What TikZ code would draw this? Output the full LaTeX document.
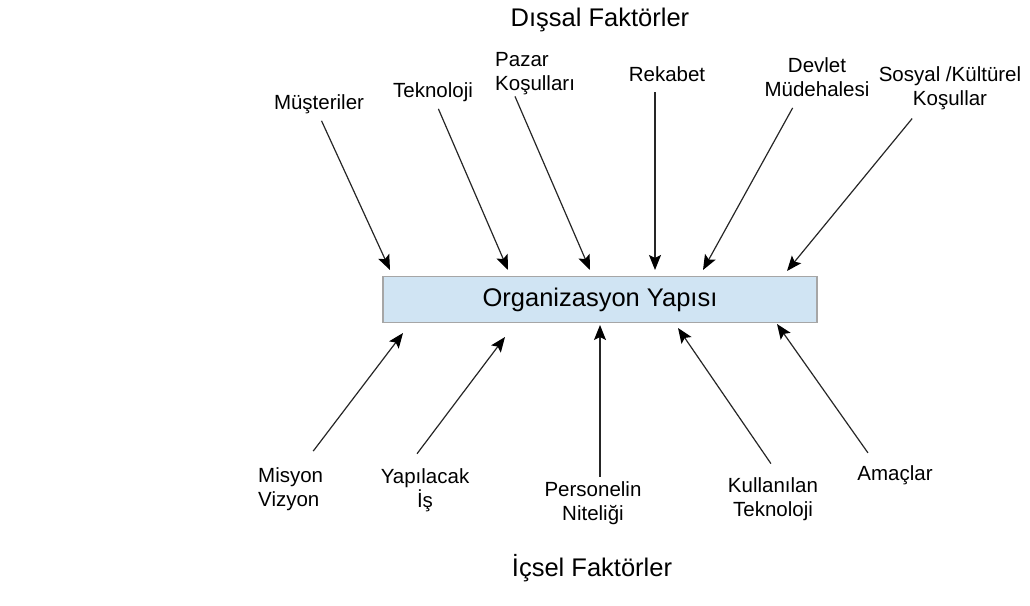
\documentclass[tikz,border=0pt]{standalone}
\usepackage{fontspec}
\setmainfont{Liberation Sans}
\usetikzlibrary{arrows.meta,positioning}
\definecolor{kutumavi}{HTML}{D0E4F3}
\tikzset{
  >={Stealth[length=15pt,width=12pt,inset=3pt,color=black]},
  etken/.style ={font=\fontsize{20.5}{24}\selectfont, inner sep=1pt, align=center},
  baslik/.style={font=\fontsize{25.5}{30}\selectfont, inner sep=1pt},
  yapi/.style  ={draw=black!35, line width=1.5pt, fill=kutumavi, inner sep=0pt,
                 minimum width=434pt, minimum height=46pt, font=\fontsize{25.5}{30}\selectfont},
  ok/.style    ={->, draw=black!85, line width=1.2pt}
}

\begin{document}
\begin{tikzpicture}[x=1pt,y=-1pt]
\useasboundingbox (0,0) rectangle (1030,605);

\node[baslik] (dissal) at (600,20) {Dışsal Faktörler};
\node[baslik] (icsel)  at (592,568) {İçsel Faktörler};
\node[yapi]   (org)    at (600,299.5) {Organizasyon Yapısı};

% dis etkenler
\node[etken] (mus) at (319,104.5) {Müşteriler};
\node[etken] (tek) at (433,92.6) {Teknoloji};
\node[etken, align=left, anchor=west] (paz) at (494,74) {Pazar\\Koşulları};
\node[etken] (rek) at (667,74.5) {Rekabet};
\node[etken] (dev) at (817,77.5) {Devlet\\Müdehalesi};
\node[etken] (sos) at (950,88) {Sosyal /Kültürel\\Koşullar};

% ic etkenler
\node[etken, align=left, anchor=west] (mis) at (257,489) {Misyon\\Vizyon};
\node[etken] (yap) at (425,490.5) {Yapılacak\\İş};
\node[etken] (per) at (593,503.6) {Personelin\\Niteliği};
\node[etken] (kul) at (773,499.6) {Kullanılan\\Teknoloji};
\node[etken] (ama) at (895,475.5) {Amaçlar};

\coordinate (t1) at (390,270);
\coordinate (t2) at (508,270);
\coordinate (t3) at (590,270);
\coordinate (t4) at (655,270);
\coordinate (t5) at (703,270);
\coordinate (t6) at (787,271);
\coordinate (b1) at (403,333);
\coordinate (b2) at (505,337);
\coordinate (b3) at (600,325);
\coordinate (b4) at (678,328);
\coordinate (b5) at (777,324);

\draw[ok, shorten <=6pt] (mus.south) -- (t1);
\draw[ok, shorten <=6pt] ([xshift=3pt]tek.south) -- (t2);
\draw[ok] ([xshift=21pt]paz.south west) -- (t3);
\draw[ok, shorten <=9pt] ([xshift=-12pt]rek.south) -- (t4);
\draw[ok, shorten <=11pt] ([xshift=-19pt]dev.south) -- (t5);
\draw[ok, shorten <=10pt] ([xshift=-31.5pt]sos.south) -- (t6);

\draw[ok, shorten <=19pt] ([xshift=44.7pt]mis.north west) -- (b1);
\draw[ok, shorten <=17.5pt] ([xshift=-18.5pt]yap.north) -- (b2);
\draw[ok, shorten <=4pt] ([xshift=7pt]per.north) -- (b3);
\draw[ok, shorten <=16pt] ([xshift=7pt]kul.north) -- (b4);
\draw[ok, shorten <=14.5pt] ([xshift=-18.7pt]ama.north) -- (b5);
\end{tikzpicture}
\end{document}
